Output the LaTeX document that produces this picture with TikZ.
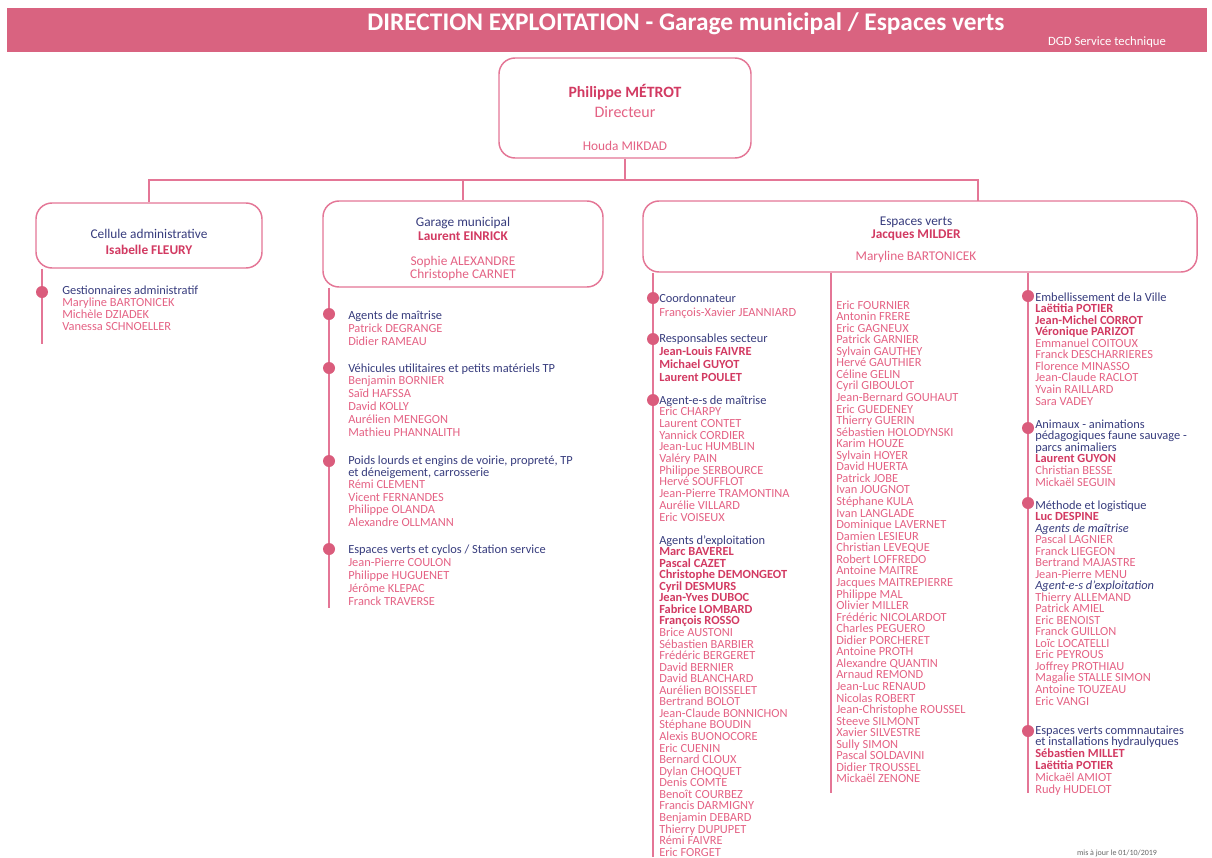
\documentclass[tikz,border=0pt]{standalone}
\usepackage{fontspec}
\setmainfont{Carlito}
\definecolor{bandpink}{RGB}{217,99,128}
\definecolor{pinkT}{RGB}{228,98,132}
\definecolor{pinkB}{RGB}{210,58,98}
\definecolor{navy}{RGB}{55,60,125}
\definecolor{lineP}{RGB}{228,118,150}
\definecolor{dotP}{RGB}{218,92,124}
\newcommand\Hd[1]{\textcolor{navy}{#1}}
\newcommand\Bn[1]{\textcolor{pinkB}{\bfseries #1}}
\newcommand\It[1]{\textcolor{navy}{\itshape #1}}
\tikzset{
  item/.style={anchor=base west, inner sep=0pt, text=pinkT, font=\fontsize{9.3}{9}\selectfont},
  boxtxt/.style={anchor=base, inner sep=0pt, text=pinkT, font=\fontsize{10}{10}\selectfont},
  orgbox/.style={draw=lineP, line width=1.1pt, rounded corners=12pt, fill=white, inner sep=0pt},
  conn/.style={draw=lineP, line width=1.2pt},
  vline/.style={draw=lineP, line width=1.4pt},
  dotmark/.style={circle, fill=dotP, inner sep=0pt, minimum size=9pt},
}
\newcommand\plist[5]{\foreach \itm [count=\i from 0] in {#5} {\node[item, name=#1-\i] at (#2,{#3+\i*#4}) {\itm};}}
\begin{document}
\begin{tikzpicture}[x=0.75pt, y=-0.75pt]
\useasboundingbox (0,0) rectangle (1212,857);
% header
\fill[bandpink] (7,8) rectangle (1207,52);
\node[anchor=base, inner sep=0pt, text=white, font=\fontsize{19}{19}\selectfont\bfseries] (title) at (686,30) {DIRECTION EXPLOITATION - Garage municipal / Espaces verts};
\node[anchor=base, inner sep=0pt, text=white, font=\fontsize{9.5}{9.5}\selectfont] (dgd) at (1107,45) {DGD Service technique};

% boxes
\node[orgbox, minimum width=189pt, minimum height=75pt] (dir) at (625,108) {};
\node[orgbox, minimum width=169.5pt, minimum height=48.75pt] (cel) at (149,235.5) {};
\node[orgbox, minimum width=210pt, minimum height=64.5pt] (gar) at (463,244) {};
\node[orgbox, minimum width=415.5pt, minimum height=53.25pt] (ev) at (920,236.5) {};

% box texts
\node[boxtxt, text=pinkB, font=\fontsize{11.8}{12}\selectfont\bfseries] (dirn) at (625,97) {Philippe MÉTROT};
\node[boxtxt, font=\fontsize{12}{12}\selectfont] (dirt) at (625,117) {Directeur};
\node[boxtxt] (dira) at (625,150) {Houda MIKDAD};

\node[boxtxt, text=navy] (celt) at (149,238) {Cellule administrative};
\node[boxtxt, text=pinkB, font=\fontsize{10}{10}\selectfont\bfseries] (celn) at (149,254) {Isabelle FLEURY};

\node[boxtxt, text=navy] (gart) at (463,226) {Garage municipal};
\node[boxtxt, text=pinkB, font=\fontsize{10}{10}\selectfont\bfseries] (garn) at (463,240) {Laurent EINRICK};
\node[boxtxt] (gara) at (463,265) {Sophie ALEXANDRE};
\node[boxtxt] (garb) at (463,278) {Christophe CARNET};

\node[boxtxt, text=navy] (evt) at (916,225) {Espaces verts};
\node[boxtxt, text=pinkB, font=\fontsize{10}{10}\selectfont\bfseries] (evn) at (916,238) {Jacques MILDER};
\node[boxtxt] (eva) at (916,260) {Maryline BARTONICEK};

% top connectors
\coordinate (bus) at (625,180);
\coordinate (evtop) at (978,201);
\draw[conn] (dir.south) -- (bus);
\draw[conn] (bus) -| (cel.north);
\draw[conn] (bus) -| (gar.north);
\draw[conn] (bus) -| (evtop);

% list lines
\coordinate (celend) at (42,344);
\coordinate (garend) at (329,608);
\coordinate (ev1end) at (653,857);
\coordinate (ev2end) at (831,793);
\coordinate (ev3end) at (1028,793);
\draw[vline] (cel.south -| celend) -- (celend);
\draw[vline] (gar.south -| garend) -- (garend);
\draw[vline] (ev.south -| ev1end) -- (ev1end);
\draw[vline] (ev.south -| ev2end) -- (ev2end);
\draw[vline] (ev.south -| ev3end) -- (ev3end);

% dots
\node[dotmark] (d1) at (42,292) {};
\node[dotmark] (d2) at (329,314) {};
\node[dotmark] (d3) at (329,368) {};
\node[dotmark] (d4) at (329,461) {};
\node[dotmark] (d5) at (329,549) {};
\node[dotmark] (d6) at (653,298) {};
\node[dotmark] (d7) at (653,339) {};
\node[dotmark] (d8) at (653,400) {};
\node[dotmark] (d9) at (1028,296) {};
\node[dotmark] (d10) at (1028,428) {};
\node[dotmark] (d11) at (1028,503) {};
\node[dotmark] (d12) at (1028,731) {};

% Cellule list
\plist{ca}{62}{294}{12.3}{\Hd{Gestionnaires administratif}, Maryline BARTONICEK, Michèle DZIADEK, Vanessa SCHNOELLER}

% Garage lists
\plist{ga}{348}{319}{13}{\Hd{Agents de maîtrise}, Patrick DEGRANGE, Didier RAMEAU}
\plist{gb}{348}{372}{12.8}{\Hd{Véhicules utilitaires et petits matériels TP}, Benjamin BORNIER, Saïd HAFSSA, David KOLLY, Aurélien MENEGON, Mathieu PHANNALITH}
\plist{gc}{348}{464}{12.4}{{\Hd{Poids lourds et engins de voirie, propreté, TP}}, {\Hd{et déneigement, carrosserie}}, Rémi CLEMENT, Vicent FERNANDES, Philippe OLANDA, Alexandre OLLMANN}
\plist{gd}{348}{553}{13}{\Hd{Espaces verts et cyclos / Station service}, Jean-Pierre COULON, Philippe HUGUENET, Jérôme KLEPAC, Franck TRAVERSE}

% Espaces verts column 1
\plist{ea}{659}{302}{14}{\Hd{Coordonnateur}, François-Xavier JEANNIARD}
\plist{eb}{659}{342}{13}{\Hd{Responsables secteur}, \Bn{Jean-Louis FAIVRE}, \Bn{Michael GUYOT}, \Bn{Laurent POULET}}
\plist{ec}{659}{404}{11.7}{\Hd{Agent-e-s de maîtrise}, Eric CHARPY, Laurent CONTET, Yannick CORDIER, Jean-Luc HUMBLIN, Valéry PAIN, Philippe SERBOURCE, Hervé SOUFFLOT, Jean-Pierre TRAMONTINA, Aurélie VILLARD, Eric VOISEUX}
\plist{ed}{659}{544}{11.56}{\Hd{Agents d’exploitation}, \Bn{Marc BAVEREL}, \Bn{Pascal CAZET}, \Bn{Christophe DEMONGEOT}, \Bn{Cyril DESMURS}, \Bn{Jean-Yves DUBOC}, \Bn{Fabrice LOMBARD}, \Bn{François ROSSO}, Brice AUSTONI, Sébastien BARBIER, Frédéric BERGERET, David BERNIER, David BLANCHARD, Aurélien BOISSELET, Bertrand BOLOT, Jean-Claude BONNICHON, Stéphane BOUDIN, Alexis BUONOCORE, Eric CUENIN, Bernard CLOUX, Dylan CHOQUET, Denis COMTE, Benoît COURBEZ, Francis DARMIGNY, Benjamin DEBARD, Thierry DUPUPET, Rémi FAIVRE, Eric FORGET}

% Espaces verts column 2
\plist{ee}{836}{309}{11.56}{Eric FOURNIER, Antonin FRERE, Eric GAGNEUX, Patrick GARNIER, Sylvain GAUTHEY, Hervé GAUTHIER, Céline GELIN, Cyril GIBOULOT, Jean-Bernard GOUHAUT, Eric GUEDENEY, Thierry GUERIN, Sébastien HOLODYNSKI, Karim HOUZE, Sylvain HOYER, David HUERTA, Patrick JOBE, Ivan JOUGNOT, Stéphane KULA, Ivan LANGLADE, Dominique LAVERNET, Damien LESIEUR, Christian LEVEQUE, Robert LOFFREDO, Antoine MAITRE, Jacques MAITREPIERRE, Philippe MAL, Olivier MILLER, Frédéric NICOLARDOT, Charles PEGUERO, Didier PORCHERET, Antoine PROTH, Alexandre QUANTIN, Arnaud REMOND, Jean-Luc RENAUD, Nicolas ROBERT, Jean-Christophe ROUSSEL, Steeve SILMONT, Xavier SILVESTRE, Sully SIMON, Pascal SOLDAVINI, Didier TROUSSEL, Mickaël ZENONE}

% Espaces verts column 3
\plist{ef}{1035}{301}{11.56}{\Hd{Embellissement de la Ville}, \Bn{Laëtitia POTIER}, \Bn{Jean-Michel CORROT}, \Bn{Véronique PARIZOT}, Emmanuel COITOUX, Franck DESCHARRIERES, Florence MINASSO, Jean-Claude RACLOT, Yvain RAILLARD, Sara VADEY}
\plist{eg}{1035}{428}{11.6}{\Hd{Animaux - animations}, \Hd{pédagogiques faune sauvage -}, \Hd{parcs animaliers}, \Bn{Laurent GUYON}, Christian BESSE, Mickaël SEGUIN}
\plist{eh}{1035}{509}{11.53}{\Hd{Méthode et logistique}, \Bn{Luc DESPINE}, \It{Agents de maîtrise}, Pascal LAGNIER, Franck LIEGEON, Bertrand MAJASTRE, Jean-Pierre MENU, \It{Agent-e-s d’exploitation}, Thierry ALLEMAND, Patrick AMIEL, Eric BENOIST, Franck GUILLON, Loïc LOCATELLI, Eric PEYROUS, Joffrey PROTHIAU, Magalie STALLE SIMON, Antoine TOUZEAU, Eric VANGI}
\plist{ei}{1035}{734}{11.8}{\Hd{Espaces verts commnautaires}, \Hd{et installations hydraulyques}, \Bn{Sébastien MILLET}, \Bn{Laëtitia POTIER}, Mickaël AMIOT, Rudy HUDELOT}

% footer
\node[anchor=base, inner sep=0pt, text=black!60, font=\fontsize{6}{6}\selectfont] (foot) at (1117,855) {mis à jour le 01/10/2019};
\end{tikzpicture}
\end{document}
